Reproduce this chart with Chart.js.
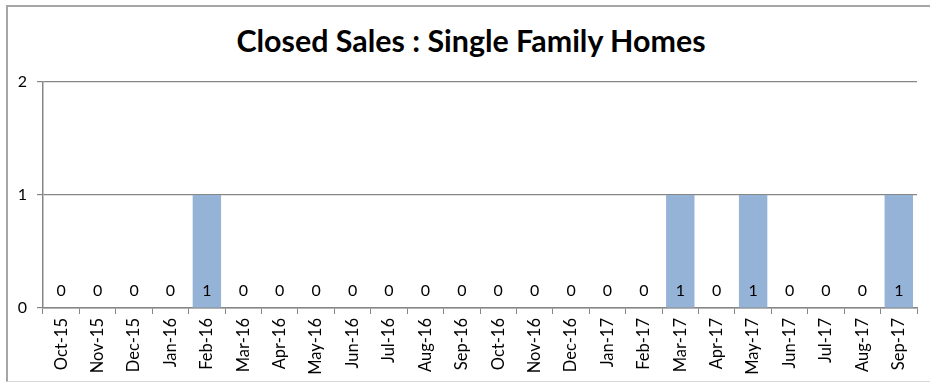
<!DOCTYPE html>
<html>
<head>
<meta charset="utf-8">
<script src="https://cdn.jsdelivr.net/npm/chart.js@4/dist/chart.umd.min.js"></script>
<style>
  html, body { margin: 0; padding: 0; background: #fff; }
  #wrap { position: relative; width: 930px; height: 388px; overflow: hidden; }
  #frame {
    position: absolute; left: 6px; top: 5px; width: 940px; height: 374px;
    border-top: 2px solid #a6a6a6; border-left: 2px solid #a6a6a6;
    border-bottom: 1px solid #d9d9d9;
  }
  #title {
    position: absolute; left: 0; top: 22px; width: 942px; margin: 0;
    line-height: 40px;
    text-align: center; font: bold 30.4px Lato, "Open Sans", sans-serif; color: #000;
  }
  canvas { position: absolute; left: 0; top: 0; }
</style>
</head>
<body>
<div id="wrap">
  <div id="frame"></div>
  <h1 id="title">Closed Sales : Single Family Homes</h1>
  <canvas id="chart" width="930" height="388"></canvas>
</div>
<script>
// Monthly categories, Oct 2015 through Sep 2017
const months = [
  'Oct-15', 'Nov-15', 'Dec-15', 'Jan-16', 'Feb-16', 'Mar-16', 'Apr-16', 'May-16',
  'Jun-16', 'Jul-16', 'Aug-16', 'Sep-16', 'Oct-16', 'Nov-16', 'Dec-16', 'Jan-17',
  'Feb-17', 'Mar-17', 'Apr-17', 'May-17', 'Jun-17', 'Jul-17', 'Aug-17', 'Sep-17'
];
// Closed sales per month
const closedSales = [0, 0, 0, 0, 1, 0, 0, 0, 0, 0, 0, 0, 0, 0, 0, 0, 0, 1, 0, 1, 0, 0, 0, 1];
// Value axis range
const yMin = 0;
const yMax = 2;
const yStep = 1;

const axisGrey = '#868686';
const fontFamily = 'Lato, "Open Sans", sans-serif';
const labelFont = { family: fontFamily, size: 16.5 };

// Writes each month's value just above the baseline
const baseLabels = {
  id: 'baseLabels',
  afterDatasetsDraw(chart) {
    const ctx = chart.ctx;
    const yScale = chart.scales.y;
    const base = yScale.getPixelForValue(0);
    ctx.save();
    ctx.font = '16px ' + fontFamily;
    ctx.fillStyle = '#000';
    ctx.textAlign = 'center';
    ctx.textBaseline = 'middle';
    chart.getDatasetMeta(0).data.forEach((bar, i) => {
      ctx.fillText(String(chart.data.datasets[0].data[i]), bar.x, base - 17);
    });
    ctx.restore();
  }
};

new Chart(document.getElementById('chart'), {
  type: 'bar',
  data: {
    labels: months,
    datasets: [{
      data: closedSales,
      backgroundColor: '#95b3d7',
      borderWidth: 0,
      barPercentage: 0.78,
      categoryPercentage: 1
    }]
  },
  options: {
    responsive: false,
    animation: false,
    layout: { padding: { left: 6, right: 13, top: 82, bottom: 0 } },
    plugins: {
      legend: { display: false },
      title: { display: false },
      tooltip: { enabled: false }
    },
    scales: {
      x: {
        offset: true,
        grid: { offset: true, drawOnChartArea: false, tickLength: 6, color: axisGrey, lineWidth: 1 },
        border: { color: axisGrey, width: 1.5 },
        ticks: {
          autoSkip: false, minRotation: 90, maxRotation: 90,
          font: labelFont, color: '#000', padding: 4
        },
        afterFit(scale) { scale.height = 80; }
      },
      y: {
        min: yMin, max: yMax,
        grid: { tickLength: 6, color: axisGrey, lineWidth: 1.2 },
        border: { color: axisGrey, width: 1.5 },
        ticks: { stepSize: yStep, font: { family: fontFamily, size: 16 }, color: '#000', padding: 10 },
        afterFit(scale) { scale.width = 37; }
      }
    }
  },
  plugins: [baseLabels]
});
</script>
</body>
</html>
